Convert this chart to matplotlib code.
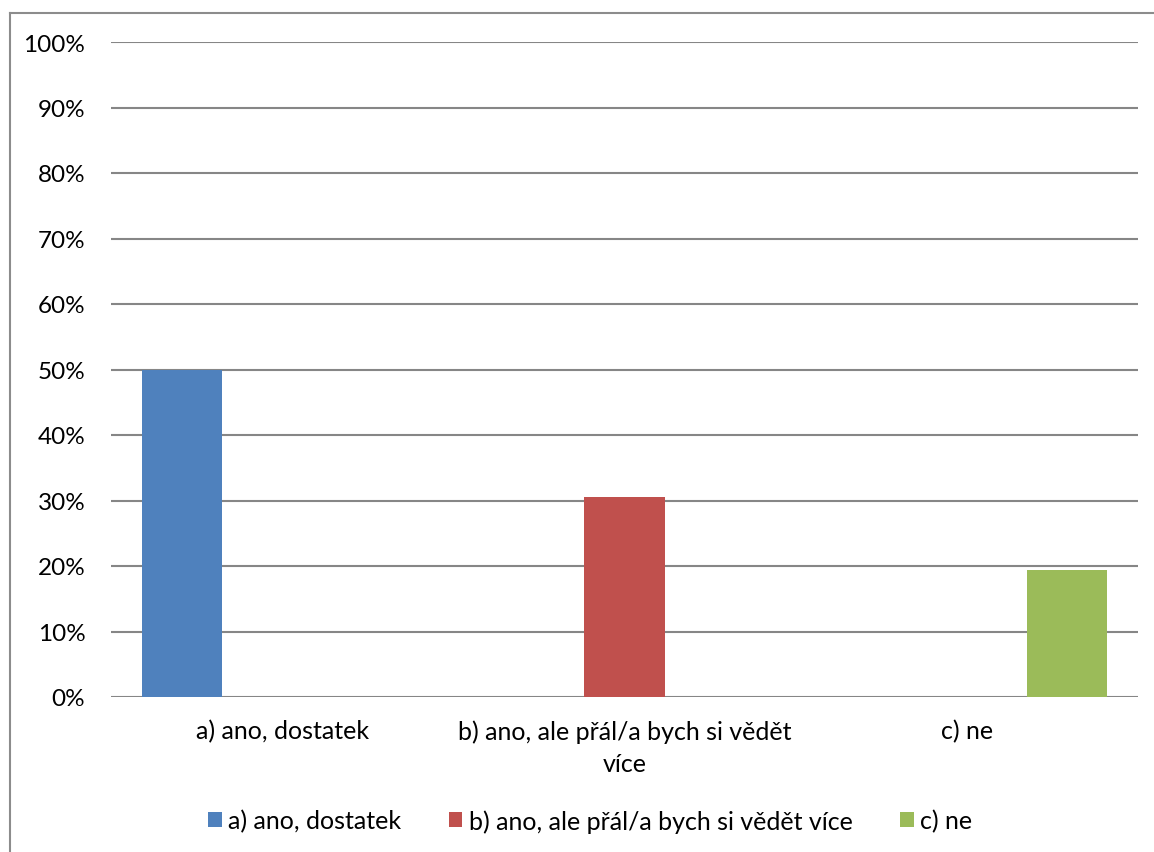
import numpy as np
import matplotlib
matplotlib.use("Agg")
import matplotlib.pyplot as plt
from matplotlib.lines import Line2D
from matplotlib.ticker import PercentFormatter

plt.rcParams['font.family'] = ['Lato', 'DejaVu Sans']

# --- Data ---
categories = ["a) ano, dostatek", "b) ano, ale přál/a bych si vědět\nvíce", "c) ne"]
series_names = ["a) ano, dostatek", "b) ano, ale přál/a bych si vědět více", "c) ne"]
series_values = [
    [0.50, 0.0, 0.0],
    [0.0, 0.306, 0.0],
    [0.0, 0.0, 0.194],
]
yticks = [0.0, 0.1, 0.2, 0.3, 0.4, 0.5, 0.6, 0.7, 0.8, 0.9, 1.0]

colors = ["#4f81bd", "#c0504d", "#9bbb59"]
grid_col = "#868686"
fsize = 18

fig = plt.figure(figsize=(11.54, 8.53), dpi=100)
ax = fig.add_axes([111 / 1154, 1 - 698 / 853, 1027 / 1154, 655 / 853])

x = np.arange(len(categories))
bar_w = 0.234
offsets = [-0.292, 0.0, 0.292]
for vals, name, col, off in zip(series_values, series_names, colors, offsets):
    ax.bar(x + off, vals, width=bar_w, color=col, label=name, zorder=3)

ax.set_xlim(-0.5, len(categories) - 0.5)
ax.set_ylim(0, 1)
ax.set_yticks(yticks)
ax.yaxis.set_major_formatter(PercentFormatter(1.0, decimals=0))
ax.set_xticks(x)
ax.set_xticklabels(categories, fontsize=fsize, linespacing=1.5)
ax.tick_params(axis='y', labelsize=17.5, length=0, pad=18.5)
ax.tick_params(axis='x', length=0, pad=16)
ax.grid(axis='y', color=grid_col, linewidth=1.5, zorder=0)
for s in ax.spines.values():
    s.set_visible(False)

# outer chart frame (left and top edges only)
fig.add_artist(Line2D([9.5 / 1154, 9.5 / 1154], [0, 1 - 13.5 / 853],
                      transform=fig.transFigure, color="#8c8c8c", linewidth=1.5))
fig.add_artist(Line2D([9.5 / 1154, 1], [1 - 13.5 / 853, 1 - 13.5 / 853],
                      transform=fig.transFigure, color="#8c8c8c", linewidth=1.5))

leg = fig.legend(loc='center', bbox_to_anchor=(590 / 1154, 1 - 822 / 853), ncol=3,
                 frameon=False, fontsize=fsize, handlelength=0.55, handleheight=0.55,
                 handletextpad=0.25, columnspacing=1.9)

fig.savefig("out.png", dpi=100)
